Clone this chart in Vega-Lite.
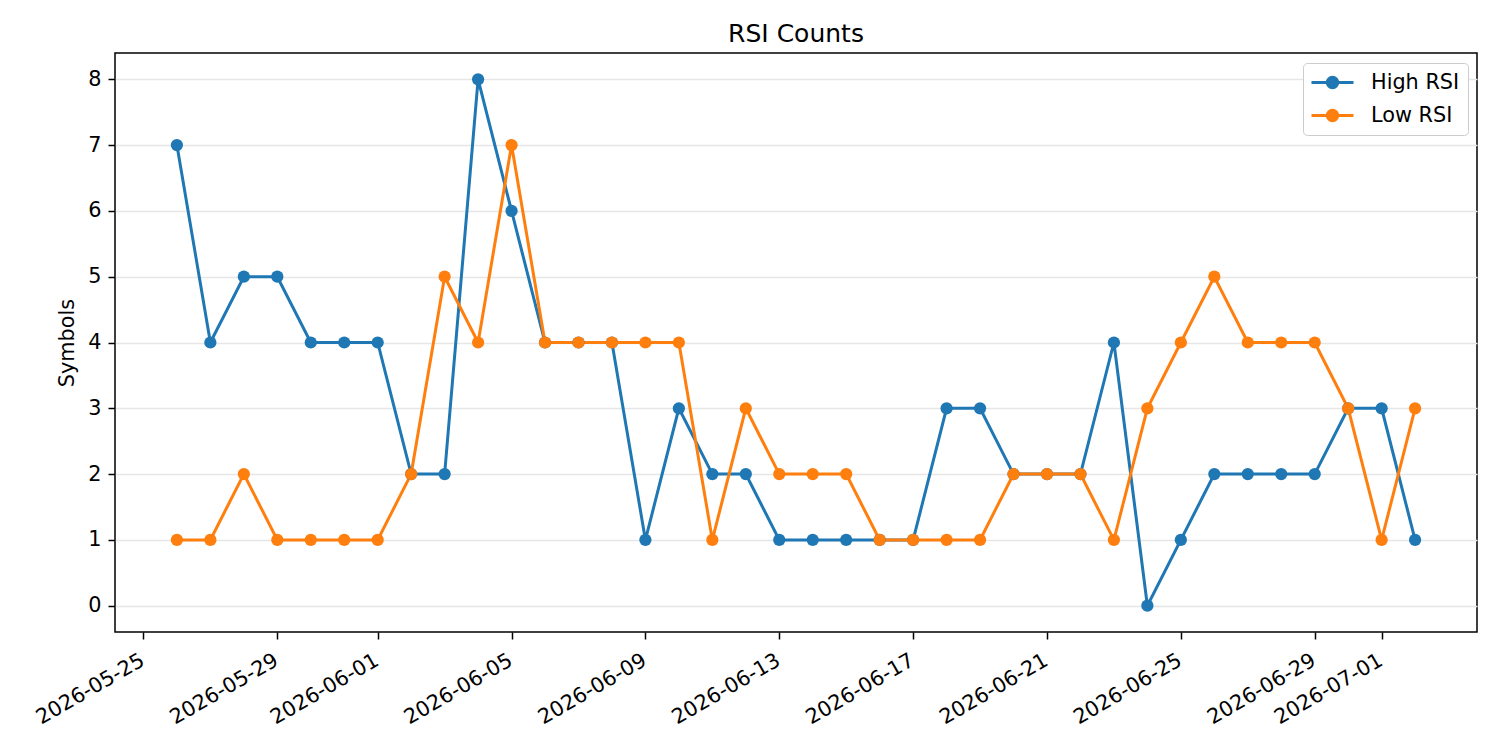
{
  "$schema": "https://vega.github.io/schema/vega-lite/v6.json",
  "autosize": {"type": "none"},
  "padding": {"left": 115, "top": 53, "right": 23, "bottom": 118},
  "width": 1362,
  "height": 579,
  "background": "white",
  "title": {"text": "RSI Counts", "font": "DejaVu Sans", "fontSize": 25, "fontWeight": "normal", "color": "black", "offset": 6},
  "config": {
    "view": {"stroke": "black", "strokeWidth": 1.5}
  },
  "datasets": {
    "rsi": [
      {"date": "2026-05-26", "series": "High RSI", "value": 7},
      {"date": "2026-05-27", "series": "High RSI", "value": 4},
      {"date": "2026-05-28", "series": "High RSI", "value": 5},
      {"date": "2026-05-29", "series": "High RSI", "value": 5},
      {"date": "2026-05-30", "series": "High RSI", "value": 4},
      {"date": "2026-05-31", "series": "High RSI", "value": 4},
      {"date": "2026-06-01", "series": "High RSI", "value": 4},
      {"date": "2026-06-02", "series": "High RSI", "value": 2},
      {"date": "2026-06-03", "series": "High RSI", "value": 2},
      {"date": "2026-06-04", "series": "High RSI", "value": 8},
      {"date": "2026-06-05", "series": "High RSI", "value": 6},
      {"date": "2026-06-06", "series": "High RSI", "value": 4},
      {"date": "2026-06-07", "series": "High RSI", "value": 4},
      {"date": "2026-06-08", "series": "High RSI", "value": 4},
      {"date": "2026-06-09", "series": "High RSI", "value": 1},
      {"date": "2026-06-10", "series": "High RSI", "value": 3},
      {"date": "2026-06-11", "series": "High RSI", "value": 2},
      {"date": "2026-06-12", "series": "High RSI", "value": 2},
      {"date": "2026-06-13", "series": "High RSI", "value": 1},
      {"date": "2026-06-14", "series": "High RSI", "value": 1},
      {"date": "2026-06-15", "series": "High RSI", "value": 1},
      {"date": "2026-06-16", "series": "High RSI", "value": 1},
      {"date": "2026-06-17", "series": "High RSI", "value": 1},
      {"date": "2026-06-18", "series": "High RSI", "value": 3},
      {"date": "2026-06-19", "series": "High RSI", "value": 3},
      {"date": "2026-06-20", "series": "High RSI", "value": 2},
      {"date": "2026-06-21", "series": "High RSI", "value": 2},
      {"date": "2026-06-22", "series": "High RSI", "value": 2},
      {"date": "2026-06-23", "series": "High RSI", "value": 4},
      {"date": "2026-06-24", "series": "High RSI", "value": 0},
      {"date": "2026-06-25", "series": "High RSI", "value": 1},
      {"date": "2026-06-26", "series": "High RSI", "value": 2},
      {"date": "2026-06-27", "series": "High RSI", "value": 2},
      {"date": "2026-06-28", "series": "High RSI", "value": 2},
      {"date": "2026-06-29", "series": "High RSI", "value": 2},
      {"date": "2026-06-30", "series": "High RSI", "value": 3},
      {"date": "2026-07-01", "series": "High RSI", "value": 3},
      {"date": "2026-07-02", "series": "High RSI", "value": 1},
      {"date": "2026-05-26", "series": "Low RSI", "value": 1},
      {"date": "2026-05-27", "series": "Low RSI", "value": 1},
      {"date": "2026-05-28", "series": "Low RSI", "value": 2},
      {"date": "2026-05-29", "series": "Low RSI", "value": 1},
      {"date": "2026-05-30", "series": "Low RSI", "value": 1},
      {"date": "2026-05-31", "series": "Low RSI", "value": 1},
      {"date": "2026-06-01", "series": "Low RSI", "value": 1},
      {"date": "2026-06-02", "series": "Low RSI", "value": 2},
      {"date": "2026-06-03", "series": "Low RSI", "value": 5},
      {"date": "2026-06-04", "series": "Low RSI", "value": 4},
      {"date": "2026-06-05", "series": "Low RSI", "value": 7},
      {"date": "2026-06-06", "series": "Low RSI", "value": 4},
      {"date": "2026-06-07", "series": "Low RSI", "value": 4},
      {"date": "2026-06-08", "series": "Low RSI", "value": 4},
      {"date": "2026-06-09", "series": "Low RSI", "value": 4},
      {"date": "2026-06-10", "series": "Low RSI", "value": 4},
      {"date": "2026-06-11", "series": "Low RSI", "value": 1},
      {"date": "2026-06-12", "series": "Low RSI", "value": 3},
      {"date": "2026-06-13", "series": "Low RSI", "value": 2},
      {"date": "2026-06-14", "series": "Low RSI", "value": 2},
      {"date": "2026-06-15", "series": "Low RSI", "value": 2},
      {"date": "2026-06-16", "series": "Low RSI", "value": 1},
      {"date": "2026-06-17", "series": "Low RSI", "value": 1},
      {"date": "2026-06-18", "series": "Low RSI", "value": 1},
      {"date": "2026-06-19", "series": "Low RSI", "value": 1},
      {"date": "2026-06-20", "series": "Low RSI", "value": 2},
      {"date": "2026-06-21", "series": "Low RSI", "value": 2},
      {"date": "2026-06-22", "series": "Low RSI", "value": 2},
      {"date": "2026-06-23", "series": "Low RSI", "value": 1},
      {"date": "2026-06-24", "series": "Low RSI", "value": 3},
      {"date": "2026-06-25", "series": "Low RSI", "value": 4},
      {"date": "2026-06-26", "series": "Low RSI", "value": 5},
      {"date": "2026-06-27", "series": "Low RSI", "value": 4},
      {"date": "2026-06-28", "series": "Low RSI", "value": 4},
      {"date": "2026-06-29", "series": "Low RSI", "value": 4},
      {"date": "2026-06-30", "series": "Low RSI", "value": 3},
      {"date": "2026-07-01", "series": "Low RSI", "value": 1},
      {"date": "2026-07-02", "series": "Low RSI", "value": 3}
    ]
  },
  "data": {"name": "rsi"},
  "encoding": {
    "x": {
      "field": "date", "type": "temporal",
      "scale": {"type": "utc", "domain": ["2026-05-24T03:36:00Z", "2026-07-03T20:24:00Z"], "nice": false},
      "axis": {
        "title": null, "grid": false, "domain": false,
        "values": ["2026-05-25", "2026-05-29", "2026-06-01", "2026-06-05", "2026-06-09", "2026-06-13", "2026-06-17", "2026-06-21", "2026-06-25", "2026-06-29", "2026-07-01"],
        "labelExpr": "utcFormat(datum.value, '%Y-%m-%d')",
        "labelFont": "DejaVu Sans", "labelFontSize": 20.8, "labelColor": "black",
        "labelAngle": -30, "labelAlign": "right", "labelBaseline": "top",
        "labelOffset": -6,
        "tickSize": 7, "tickWidth": 1.5, "tickColor": "black", "labelPadding": 11, "labelOverlap": false, "labelFlush": false, "labelBound": false
      }
    },
    "y": {
      "field": "value", "type": "quantitative",
      "scale": {"domain": [-0.4, 8.4], "nice": false, "zero": false},
      "axis": {
        "title": "Symbols", "titleFont": "DejaVu Sans", "titleFontSize": 20.8, "titleFontWeight": "normal", "titleColor": "black",
        "values": [0, 1, 2, 3, 4, 5, 6, 7, 8], "grid": true, "gridColor": "#e6e6e6", "gridWidth": 1.3,
        "labelFont": "DejaVu Sans", "labelFontSize": 20.8, "labelColor": "black",
        "domain": false, "tickSize": 7, "tickWidth": 1.5, "tickColor": "black", "labelPadding": 7, "titlePadding": 10
      }
    },
    "color": {
      "field": "series", "type": "nominal",
      "scale": {"domain": ["High RSI", "Low RSI"], "range": ["#1f77b4", "#ff7f0e"]},
      "legend": {
        "title": null, "orient": "none", "legendX": 1188, "legendY": 10,
        "direction": "vertical",
        "symbolType": "M-2.1,0L2.1,0M0.52,0A0.52,0.52 0 1 1 -0.52,0A0.52,0.52 0 1 1 0.52,0Z",
        "symbolSize": 400, "symbolStrokeWidth": 3, "symbolOffset": 10,
        "labelFont": "DejaVu Sans", "labelFontSize": 20.8, "labelColor": "black", "labelOffset": 27,
        "rowPadding": 10, "padding": 8,
        "strokeColor": "#cccccc", "fillColor": "white", "cornerRadius": 4,
        "encode": {
          "symbols": {"update": {
            "fill": {"scale": "color", "field": "value"},
            "stroke": {"scale": "color", "field": "value"},
            "strokeWidth": {"value": 3},
            "opacity": {"value": 1}
          }}
        }
      }
    }
  },
  "layer": [
    {"mark": {"type": "line", "strokeWidth": 3}},
    {"mark": {"type": "point", "shape": "circle", "filled": true, "size": 150, "opacity": 1}}
  ]
}
